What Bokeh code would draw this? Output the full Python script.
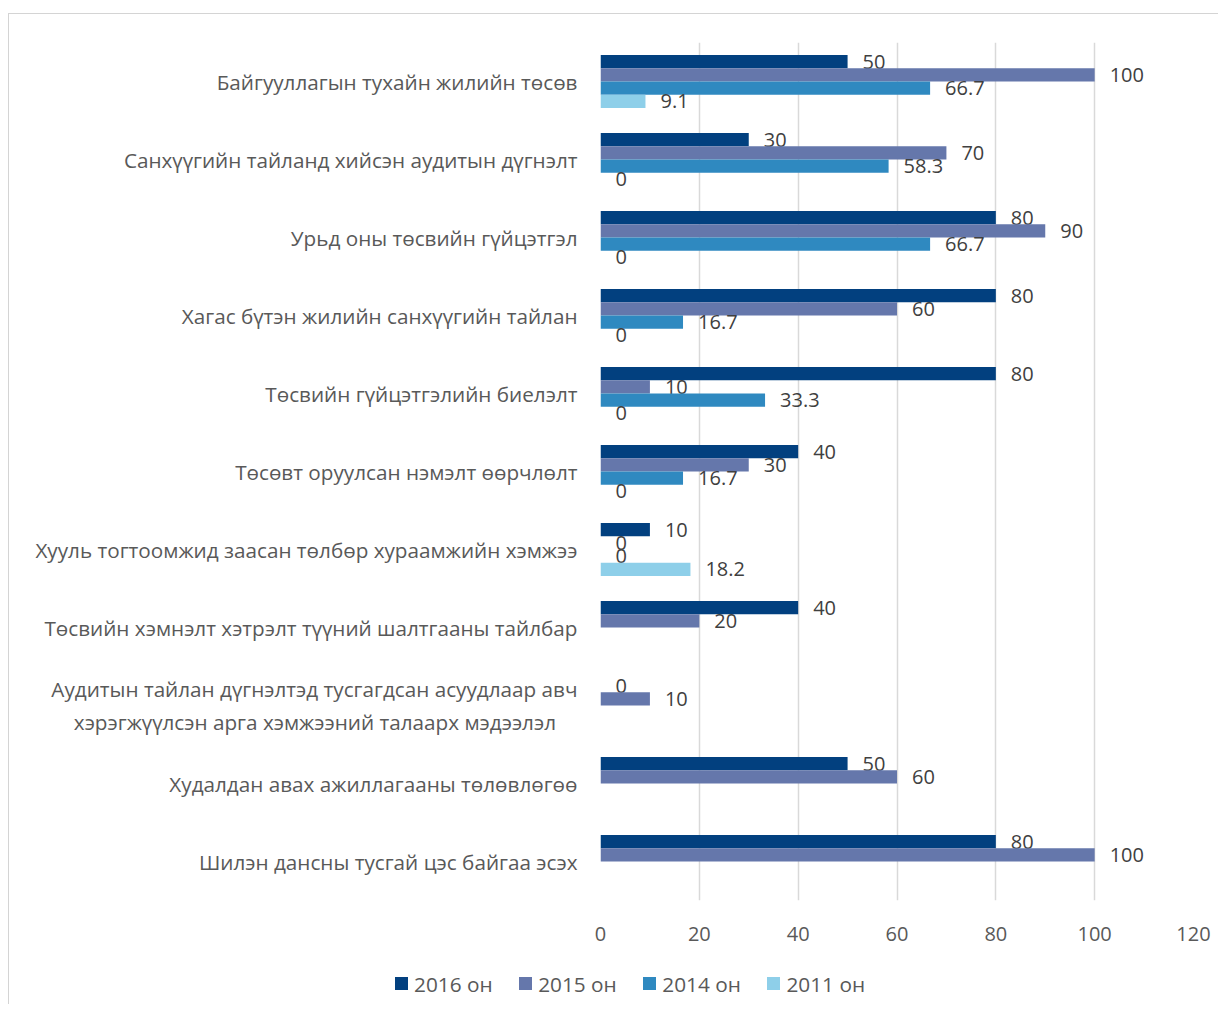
import math
from bokeh.plotting import figure
from bokeh.layouts import column
from bokeh.models import ColumnDataSource, FactorRange, Range1d, FixedTicker, Div
from bokeh.transform import dodge
from bokeh.core.properties import value
from bokeh.embed import file_html
from bokeh.resources import INLINE

categories = [
    "Байгууллагын тухайн жилийн төсөв",
    "Санхүүгийн тайланд хийсэн аудитын дүгнэлт",
    "Урьд оны төсвийн гүйцэтгэл",
    "Хагас бүтэн жилийн санхүүгийн тайлан",
    "Төсвийн гүйцэтгэлийн биелэлт",
    "Төсөвт оруулсан нэмэлт өөрчлөлт",
    "Хууль тогтоомжид заасан төлбөр хураамжийн хэмжээ",
    "Төсвийн хэмнэлт хэтрэлт түүний шалтгааны тайлбар",
    "Аудитын тайлан дүгнэлтэд тусгагдсан асуудлаар авч\nхэрэгжүүлсэн арга хэмжээний талаарх мэдээлэл\u00a0\u00a0\u00a0\u00a0",
    "Худалдан авах ажиллагааны төлөвлөгөө",
    "Шилэн дансны тусгай цэс байгаа эсэх",
]
nan = float("nan")
v2016 = [50, 30, 80, 80, 80, 40, 10, 40, 0, 50, 80]
v2015 = [100, 70, 90, 60, 10, 30, 0, 20, 10, 60, 100]
v2014 = [66.7, 58.3, 66.7, 16.7, 33.3, 16.7, 0, nan, nan, nan, nan]
v2011 = [9.1, 0, 0, 0, 0, 0, 18.2, nan, nan, nan, nan]
series_names = ["2016 он", "2015 он", "2014 он", "2011 он"]
x_ticks = [0, 20, 40, 60, 80, 100, 120]

series = [v2016, v2015, v2014, v2011]
colors = ["#02407f", "#6577ab", "#2f89c0", "#8ecfe9"]
offsets = [0.255, 0.085, -0.085, -0.255]
FONT = "Open Sans"
BORDER = "1px solid #d4d4d4"

p = figure(width=1210, height=941, output_backend="svg", toolbar_location=None,
           y_range=FactorRange(factors=categories[::-1], range_padding=0),
           x_range=Range1d(0, 120),
           min_border_left=591, min_border_right=26, min_border_top=28,
           min_border_bottom=55)
p.margin = (13, 0, 0, 8)
p.styles = {"border-left": BORDER, "border-top": BORDER}
p.outline_line_color = None
p.background_fill_color = "white"

for vals, col, off in zip(series, colors, offsets):
    cats = [c for c, v in zip(categories, vals) if not math.isnan(v)]
    vv = [v for v in vals if not math.isnan(v)]
    src = ColumnDataSource(dict(cat=cats, val=vv, lab=[f"{v:g}" for v in vv]))
    p.hbar(y=dodge("cat", off, range=p.y_range), right="val", left=0,
           height=0.17, source=src, fill_color=col, line_color=None)
    p.text(x="val", y=dodge("cat", off, range=p.y_range), text="lab", source=src,
           x_offset=15, y_offset=0, text_align="left", text_baseline="middle",
           text_font=value(FONT), text_font_size="20px", text_color="#404040")

p.xaxis.ticker = FixedTicker(ticks=x_ticks)
p.xaxis.axis_line_color = None
p.xaxis.major_tick_line_color = None
p.xaxis.minor_tick_line_color = None
p.xaxis.major_label_text_font = FONT
p.xaxis.major_label_text_font_size = "20px"
p.xaxis.major_label_text_color = "#595959"
p.xaxis.major_label_standoff = 20

p.yaxis.axis_line_color = None
p.yaxis.major_tick_line_color = None
p.yaxis.minor_tick_line_color = None
p.yaxis.major_label_text_font = FONT
p.yaxis.major_label_text_font_size = "20.7px"
p.yaxis.major_label_text_color = "#595959"
p.yaxis.major_label_standoff = 17

p.ygrid.grid_line_color = None
p.xgrid.ticker = FixedTicker(ticks=x_ticks)
p.xgrid.grid_line_color = "#d9d9d9"
p.xgrid.grid_line_width = 1.5

# legend strip below the chart
item_html = "".join(
    f'<span style="display:inline-flex;align-items:center;margin-right:26.5px;">'
    f'<span style="display:inline-block;width:13px;height:13px;background:{c};'
    f'margin-right:6px;"></span>{n}</span>'
    for c, n in zip(colors, series_names))
legend_div = Div(
    text=f'<div style="font-family:\'Open Sans\';font-size:20.8px;color:#595959;'
         f'line-height:26px;padding-top:15px;padding-left:386px;white-space:nowrap;">'
         f'{item_html}</div>',
    width=1210, height=50)
legend_div.margin = (0, 0, 0, 8)
legend_div.styles = {"border-left": BORDER}

layout = column(p, legend_div, spacing=0)
open("out.html", "w").write(file_html(layout, INLINE))
